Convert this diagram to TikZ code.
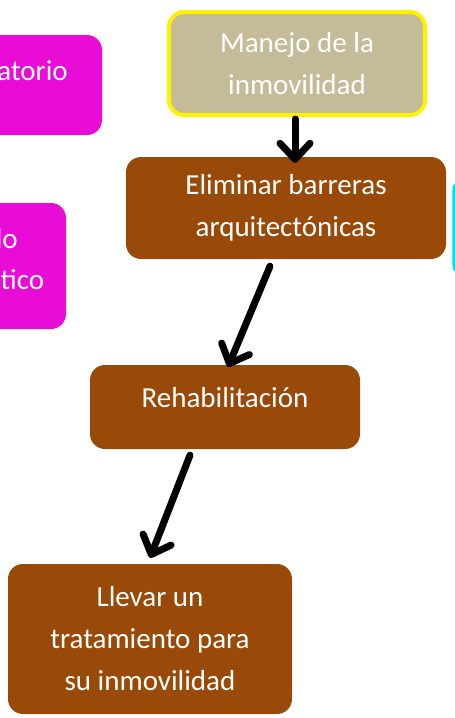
\documentclass[tikz,border=0pt]{standalone}
\usepackage{fontspec}
\setmainfont{Carlito}
\usetikzlibrary{arrows.meta}
\definecolor{cafe}{RGB}{154,74,8}
\definecolor{caqui}{RGB}{196,188,152}
\definecolor{fucsia}{RGB}{233,12,214}
\definecolor{celeste}{RGB}{0,220,240}
\tikzset{
  caja/.style={rounded corners=15pt, fill=cafe, text=white, align=center, inner sep=0pt},
  lateral/.style={rounded corners=15pt, fill=fucsia},
  texto/.style={text=white, inner sep=0pt},
  flecha/.style={line width=7pt, line cap=round, line join=round, -{Straight Barb[length=16pt,width=30pt,round]}}
}
\begin{document}
\begin{tikzpicture}[x=1pt,y=-1pt,font=\fontsize{29}{42}\selectfont]
\useasboundingbox (0,0) rectangle (455,718);
% cajas de los lados (cortadas)
\fill[lateral] (-120,35) rectangle (102,135);
\node[texto, anchor=base east] (ambulatorio) at (68,80) {atorio};
\fill[lateral] (-120,203) rectangle (66,329);
\node[texto, anchor=base east] (lo) at (18,248) {lo};
\node[texto, anchor=base west] (tico) at (0.5,289) {tico};
\draw[celeste, line width=2.5pt, rounded corners=12pt, fill=white] (453.5,179) rectangle (560,276);
% cajas principales
\node[caja, fill=caqui, draw=yellow, line width=4pt, minimum width=256pt, minimum height=103pt] (manejo) at (297,63.5) {Manejo de la\\inmovilidad};
\node[caja, minimum width=320pt, minimum height=102pt] (barreras) at (286,208) {Eliminar barreras\\arquitectónicas};
\node[caja, minimum width=270pt, text height=42pt, text depth=42pt] (rehab) at (225,407) {Rehabilitación};
\node[caja, minimum width=284pt, minimum height=150pt] (llevar) at (150,639) {Llevar un\\tratamiento para\\su inmovilidad};
% flechas
\draw[flecha] ([xshift=-2pt,yshift=-2pt]manejo.south) -- ([xshift=9pt,yshift=-6pt]barreras.north);
\draw[flecha] ([xshift=-16pt,yshift=-7pt]barreras.south) -- ([xshift=3pt,yshift=-2pt]rehab.north);
\draw[flecha] ([xshift=-35pt,yshift=-6pt]rehab.south) -- ([yshift=6pt]llevar.north);
\end{tikzpicture}
\end{document}
